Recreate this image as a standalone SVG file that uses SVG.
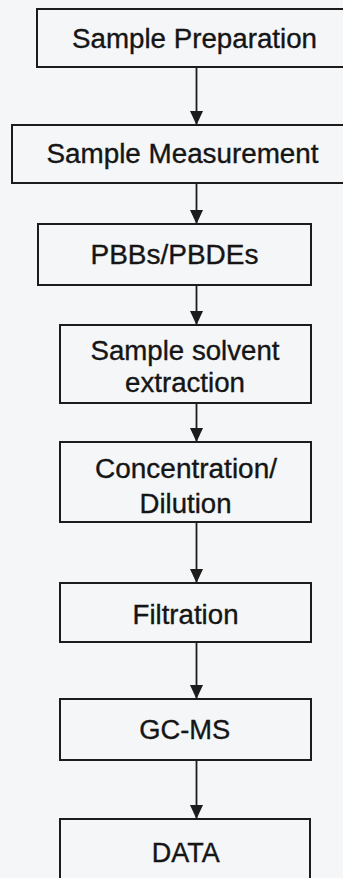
<svg xmlns="http://www.w3.org/2000/svg" width="343" height="878" viewBox="0 0 343 878">
<style>
.box{fill:none;stroke:#1c1c1c;stroke-width:2}
.lbl{font-family:"Liberation Sans",Arial,sans-serif;font-size:27px;fill:#151515;stroke:#151515;stroke-width:0.35;text-anchor:middle}
.conn{stroke:#1c1c1c;stroke-width:1.8;fill:none;marker-end:url(#ah)}
</style>
<defs>
<marker id="ah" markerUnits="userSpaceOnUse" markerWidth="14" markerHeight="13" viewBox="0 0 14 13" refX="14" refY="6.5" orient="auto">
<path d="M0,0 L14,6.5 L0,13 Z" fill="#1c1c1c"/>
</marker>
</defs>
<rect width="343" height="878" fill="#f4f6f8"/>
<g id="connectors">
<path class="conn" d="M196.5,67 V125"/>
<path class="conn" d="M196.5,183 V224"/>
<path class="conn" d="M196.5,285 V325"/>
<path class="conn" d="M196.5,403 V442"/>
<path class="conn" d="M196.5,522 V583"/>
<path class="conn" d="M196.5,642 V699"/>
<path class="conn" d="M196.5,760 V819"/>
</g>
<g id="n1">
<rect class="box" x="37" y="9" width="316" height="58"/>
<text class="lbl" x="194.5" y="48" textLength="245" lengthAdjust="spacingAndGlyphs">Sample Preparation</text>
</g>
<g id="n2">
<rect class="box" x="12" y="125" width="341" height="58"/>
<text class="lbl" x="182.5" y="163" textLength="272" lengthAdjust="spacingAndGlyphs">Sample Measurement</text>
</g>
<g id="n3">
<rect class="box" x="38" y="224" width="273" height="61"/>
<text class="lbl" x="174.5" y="264" textLength="168" lengthAdjust="spacingAndGlyphs">PBBs/PBDEs</text>
</g>
<g id="n4">
<rect class="box" x="60" y="325" width="251" height="78"/>
<text class="lbl" x="185" y="360" textLength="189" lengthAdjust="spacingAndGlyphs">Sample solvent</text>
<text class="lbl" x="185" y="392" textLength="120" lengthAdjust="spacingAndGlyphs">extraction</text>
</g>
<g id="n5">
<rect class="box" x="60" y="442" width="251" height="80"/>
<text class="lbl" x="186" y="478" textLength="182" lengthAdjust="spacingAndGlyphs">Concentration/</text>
<text class="lbl" x="185.5" y="512.5" textLength="92" lengthAdjust="spacingAndGlyphs">Dilution</text>
</g>
<g id="n6">
<rect class="box" x="60" y="583" width="251" height="59"/>
<text class="lbl" x="185.5" y="624" textLength="106" lengthAdjust="spacingAndGlyphs">Filtration</text>
</g>
<g id="n7">
<rect class="box" x="60" y="699" width="251" height="61"/>
<text class="lbl" x="184.7" y="739" textLength="91" lengthAdjust="spacingAndGlyphs">GC-MS</text>
</g>
<g id="n8">
<rect class="box" x="60" y="819" width="250" height="70"/>
<text class="lbl" x="185.8" y="862" textLength="68" lengthAdjust="spacingAndGlyphs">DATA</text>
</g>
</svg>
